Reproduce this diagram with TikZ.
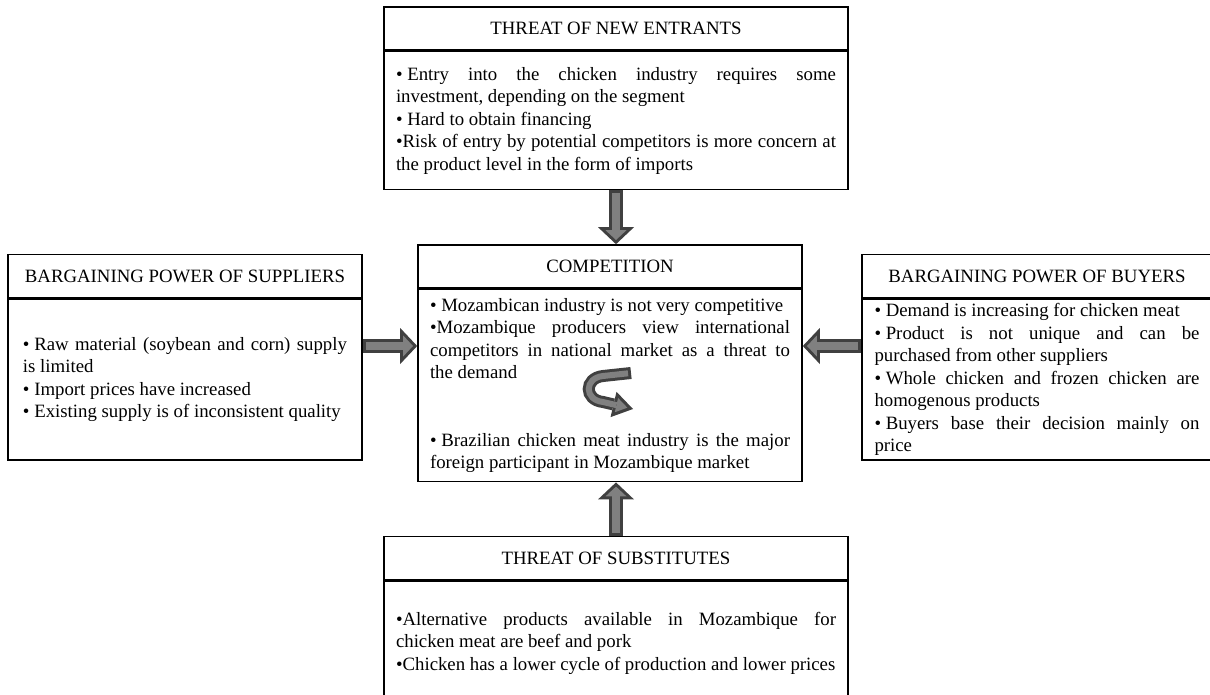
\documentclass[tikz,border=0pt]{standalone}
\usepackage{fontspec}
\setmainfont{Liberation Serif}
\usetikzlibrary{positioning,arrows.meta}
\tolerance=10000
\hbadness=10000

\definecolor{arrowedge}{HTML}{404040}
\definecolor{arrowfill}{HTML}{808080}

% bullet with a fixed gap, for justified lines
\newcommand{\bulsp}{•\kern0.25em}

\tikzset{
  boxfont/.style={font=\fontsize{9.4pt}{11.25pt}\selectfont},
  headbox/.style={boxfont, draw, line width=0.8pt, minimum height=21.5pt, inner sep=0pt},
  bodybox/.style={boxfont, draw, line width=0.8pt, align=justify, inner xsep=6pt, inner ysep=0pt},
  fatedge/.style={line width=7pt, draw=arrowedge, -{Triangle[length=8.5pt,width=18pt,line width=0pt]}},
  fatcore/.style={line width=4pt, draw=arrowfill, shorten <=1.5pt, shorten >=2.1pt,
    -{Triangle[length=4.9pt,width=10.5pt,line width=0pt]}},
}

\begin{document}
\begin{tikzpicture}[x=0.5pt, y=-0.5pt]
\useasboundingbox (0,0) rectangle (1210,695);

% threat of new entrants
\node[headbox, minimum width=232pt] (entrantsHead) at (616,28.5) {THREAT OF NEW ENTRANTS};
\node[bodybox, text width=220pt, minimum height=69pt, below=0pt of entrantsHead] (entrantsBody)
  {\bulsp Entry into the chicken industry requires some\linebreak investment, depending on the segment\\
   • Hard to obtain financing\\
   •Risk of entry by potential competitors is more concern at\linebreak the product level in the form of imports};

% competition
\node[headbox, minimum width=192pt] (compHead) at (610,266.5) {COMPETITION};
\node[bodybox, text width=180pt, minimum height=96pt, below=0pt of compHead] (compBody)
  {• Mozambican industry is not very competitive\\
   •Mozambique producers view international\linebreak competitors in national market as a threat to\linebreak the demand\\[22.5pt]
   \bulsp Brazilian chicken meat industry is the major\linebreak foreign participant in Mozambique market};

% suppliers
\node[headbox, minimum width=177pt] (suppHead) at (185,276) {BARGAINING POWER OF SUPPLIERS};
\node[bodybox, inner xsep=7.5pt, text width=162pt, minimum height=80.5pt, below=0pt of suppHead] (suppBody)
  {\bulsp Raw material (soybean and corn) supply\linebreak is limited\\
   • Import prices have increased\\
   • Existing supply is of inconsistent quality};

% buyers
\node[headbox, minimum width=175pt] (buyHead) at (1037,276) {BARGAINING POWER OF BUYERS};
\node[bodybox, inner xsep=6.25pt, text width=162.5pt, minimum height=80.5pt, below=0pt of buyHead] (buyBody)
  {• Demand is increasing for chicken meat\\
   \bulsp Product is not unique and can be\linebreak purchased from other suppliers\\
   \bulsp Whole chicken and frozen chicken are\linebreak homogenous products\\
   \bulsp Buyers base their decision mainly on\linebreak price};

% substitutes
\node[headbox, minimum width=232pt] (substHead) at (616,558) {THREAT OF SUBSTITUTES};
\node[bodybox, text width=220pt, minimum height=62pt, below=0pt of substHead] (substBody)
  {•Alternative products available in Mozambique for\linebreak chicken meat are beef and pork\\
   •Chicken has a lower cycle of production and lower prices};

% block arrows
\coordinate (sideLevel) at (0,346);
\draw[fatedge] (entrantsBody.south) -- (entrantsBody.south |- compHead.north);
\draw[fatcore] (entrantsBody.south) -- (entrantsBody.south |- compHead.north);
\draw[fatedge] (substHead.north) -- (substHead.north |- compBody.south);
\draw[fatcore] (substHead.north) -- (substHead.north |- compBody.south);
\draw[fatedge] (suppBody.east |- sideLevel) -- (compBody.west |- sideLevel);
\draw[fatcore] (suppBody.east |- sideLevel) -- (compBody.west |- sideLevel);
\draw[fatedge] (buyBody.west |- sideLevel) -- (compBody.east |- sideLevel);
\draw[fatcore] (buyBody.west |- sideLevel) -- (compBody.east |- sideLevel);

% turn-around arrow
\draw[line width=6pt, draw=arrowedge, -{Triangle[length=10pt,width=13pt,line width=0pt]}]
  (631,373) -- (603,376) .. controls (584,378) and (584,400) .. (603,402) -- (633,409);
\draw[line width=3pt, draw=arrowfill, shorten <=1.5pt, shorten >=2.9pt,
  -{Triangle[length=5.6pt,width=7.3pt,line width=0pt]}]
  (631,373) -- (603,376) .. controls (584,378) and (584,400) .. (603,402) -- (633,409);
\end{tikzpicture}
\end{document}
